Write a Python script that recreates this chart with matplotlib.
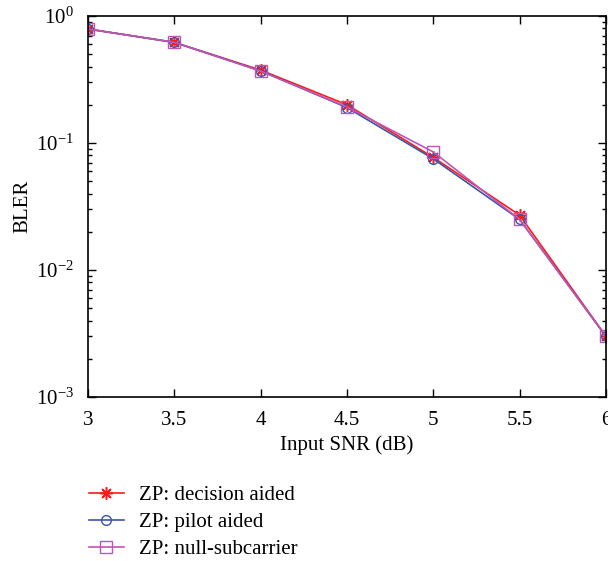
import matplotlib
matplotlib.use("Agg")
import matplotlib.pyplot as plt
from matplotlib.ticker import LogLocator, NullFormatter

snr = [3, 3.5, 4, 4.5, 5, 5.5, 6]
decision_aided = [0.79, 0.62, 0.375, 0.200, 0.077, 0.027, 0.0030]
pilot_aided = [0.79, 0.62, 0.370, 0.190, 0.075, 0.025, 0.0030]
null_subcarrier = [0.79, 0.62, 0.368, 0.192, 0.085, 0.025, 0.0030]
labels = ["ZP: decision aided", "ZP: pilot aided", "ZP: null-subcarrier"]

plt.rcParams['font.family'] = ['Liberation Serif', 'DejaVu Serif']
plt.rcParams['mathtext.fontset'] = 'stix'

fig = plt.figure(figsize=(6.08, 5.61), dpi=100)
ax = fig.add_axes([0.1447, 0.2923, 0.852, 0.6792])

red = '#ff1a1a'
blue = '#3a55a8'
mag = '#c055b5'
l1, = ax.plot(snr, decision_aided, color=red, marker=(8, 2, 0), markersize=9, lw=1.2,
              mfc='none', mec=red, mew=1.1, label=labels[0])
l2, = ax.plot(snr, pilot_aided, color=blue, marker='o', markersize=7, lw=1.2,
              mfc='none', mec=blue, label=labels[1])
l3, = ax.plot(snr, null_subcarrier, color=mag, marker='s', markersize=8, lw=1.2,
              mfc='none', mec=mag, label=labels[2])

ax.set_yscale('log')
ax.set_xlim(3, 6)
ax.set_ylim(1e-3, 1)
ax.set_xticks(snr)
ax.set_xticklabels(['3', '3.5', '4', '4.5', '5', '5.5', '6'])
ax.yaxis.set_major_locator(LogLocator(base=10, numticks=10))
ax.yaxis.set_minor_locator(LogLocator(base=10, subs=range(2, 10), numticks=10))
ax.yaxis.set_minor_formatter(NullFormatter())
ax.tick_params(which='both', direction='in', top=True, right=True, labelsize=15, width=1)
ax.tick_params(which='major', length=6, pad=10)
ax.tick_params(which='minor', length=3)
for s in ax.spines.values():
    s.set_linewidth(1.2)
ax.set_xlabel('Input SNR (dB)', fontsize=15, labelpad=4)
ax.set_ylabel('BLER', fontsize=15, labelpad=3)

fig.legend(handles=[l1, l2, l3], labels=labels, loc='upper left',
           bbox_to_anchor=(0.115, 0.1675), frameon=False, fontsize=15,
           handlelength=1.7, labelspacing=0.35, handletextpad=0.7)

fig.savefig('out.png', dpi=100)
